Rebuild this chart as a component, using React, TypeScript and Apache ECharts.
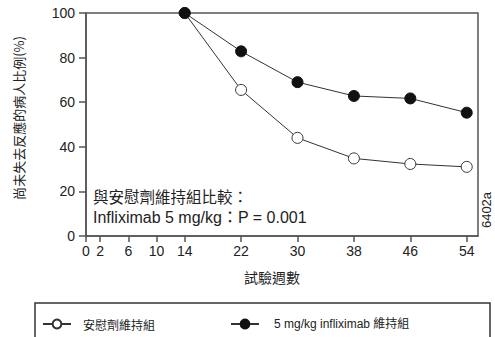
import React, { useEffect, useRef } from "react";
import * as echarts from "echarts";

const weekTicks = [0, 2, 6, 10, 14, 22, 30, 38, 46, 54];
const weeks = [14, 22, 30, 38, 46, 54];
const placeboValues = [100, 65.5, 44, 34.8, 32.3, 31];
const inflixValues = [100, 82.8, 69, 62.8, 61.7, 55.3];
const seriesNames = ["安慰劑維持組", "5 mg/kg infliximab 維持組"];
const yAxisTitle = "尚未失去反應的病人比例(%)";
const xAxisTitle = "試驗週數";
const noteLine1 = "與安慰劑維持組比較：";
const noteLine2 = "Infliximab 5 mg/kg：P = 0.001";
const figCode = "6402a";

const LATIN = "'Liberation Sans', Arial, 'Noto Sans CJK TC', sans-serif";
const CJK = "'Noto Sans CJK TC', 'Liberation Sans', sans-serif";

export default function App() {
  const ref = useRef<HTMLDivElement>(null);
  useEffect(() => {
    if (!ref.current) return;
    const chart = echarts.init(ref.current, undefined, { renderer: "svg" });
    const axisColor = "#555";
    chart.setOption({
      animation: false,
      backgroundColor: "#fff",
      grid: {
        left: 86,
        top: 13,
        right: 17,
        bottom: 101,
        show: true,
        borderColor: axisColor,
        borderWidth: 1.5,
      },
      xAxis: {
        type: "value",
        min: 0,
        max: 55.6,
        axisLine: { show: true, lineStyle: { color: axisColor, width: 1.5 } },
        axisTick: {
          show: true,
          length: 6,
          customValues: weekTicks,
          lineStyle: { color: axisColor, width: 1.5 },
        },
        axisLabel: {
          customValues: weekTicks,
          color: "#222",
          fontSize: 14,
          fontFamily: LATIN,
          margin: 8,
        },
        splitLine: { show: false },
      },
      yAxis: {
        type: "value",
        min: 0,
        max: 100,
        interval: 20,
        axisLine: { show: true, lineStyle: { color: axisColor, width: 1.5 } },
        axisTick: { show: true, length: 7, lineStyle: { color: axisColor, width: 1.5 } },
        axisLabel: { color: "#222", fontSize: 14, fontFamily: LATIN, margin: 11 },
        splitLine: { show: false },
      },
      legend: [
        {
          data: [seriesNames[0]],
          left: 42,
          top: 318,
          itemWidth: 28,
          itemHeight: 11,
          padding: 0,
          textStyle: { fontFamily: CJK, fontSize: 12, color: "#222", padding: [0, 0, 0, 7] },
        },
        {
          data: [seriesNames[1]],
          left: 230,
          top: 318,
          itemWidth: 28,
          itemHeight: 11,
          padding: 0,
          textStyle: { fontFamily: LATIN, fontSize: 12, color: "#222", padding: [0, 0, 0, 10] },
        },
      ],
      series: [
        {
          name: seriesNames[0],
          type: "line",
          data: weeks.map((w, i) => [w, placeboValues[i]]),
          symbol: "circle",
          symbolSize: 11,
          clip: false,
          lineStyle: { color: "#333", width: 1 },
          itemStyle: { color: "#fff", borderColor: "#333", borderWidth: 1 },
        },
        {
          name: seriesNames[1],
          type: "line",
          data: weeks.map((w, i) => [w, inflixValues[i]]),
          symbol: "circle",
          symbolSize: 11,
          clip: false,
          lineStyle: { color: "#333", width: 1 },
          itemStyle: { color: "#111", borderColor: "#111", borderWidth: 1 },
        },
      ],
      graphic: [
        {
          type: "text",
          x: 18,
          y: 118,
          rotation: Math.PI / 2,
          originX: 0,
          originY: 0,
          style: {
            text: yAxisTitle,
            fontFamily: CJK,
            fontSize: 13,
            fill: "#222",
            align: "center",
            verticalAlign: "middle",
          },
        },
        {
          type: "text",
          x: 272,
          y: 277,
          style: {
            text: xAxisTitle,
            fontFamily: CJK,
            fontSize: 14,
            fill: "#222",
            align: "center",
            verticalAlign: "middle",
          },
        },
        {
          type: "text",
          x: 93,
          y: 196,
          style: {
            text: noteLine1,
            fontFamily: CJK,
            fontSize: 15.5,
            fill: "#222",
            align: "left",
            verticalAlign: "middle",
          },
        },
        {
          type: "text",
          x: 93,
          y: 217,
          style: {
            text: noteLine2,
            fontFamily: LATIN,
            fontSize: 16,
            fill: "#222",
            align: "left",
            verticalAlign: "middle",
          },
        },
        {
          type: "text",
          x: 486,
          y: 210,
          rotation: Math.PI / 2,
          style: {
            text: figCode,
            fontFamily: LATIN,
            fontSize: 13,
            fill: "#222",
            align: "center",
            verticalAlign: "middle",
          },
        },
        {
          type: "rect",
          shape: { x: 35, y: 303, width: 455, height: 60 },
          style: { fill: "none", stroke: "#333", lineWidth: 1.5 },
        },
      ],
    });
    return () => chart.dispose();
  }, []);
  return (
    <div
      ref={ref}
      style={{ position: "fixed", left: 0, top: 0, width: 495, height: 337 }}
    />
  );
}
